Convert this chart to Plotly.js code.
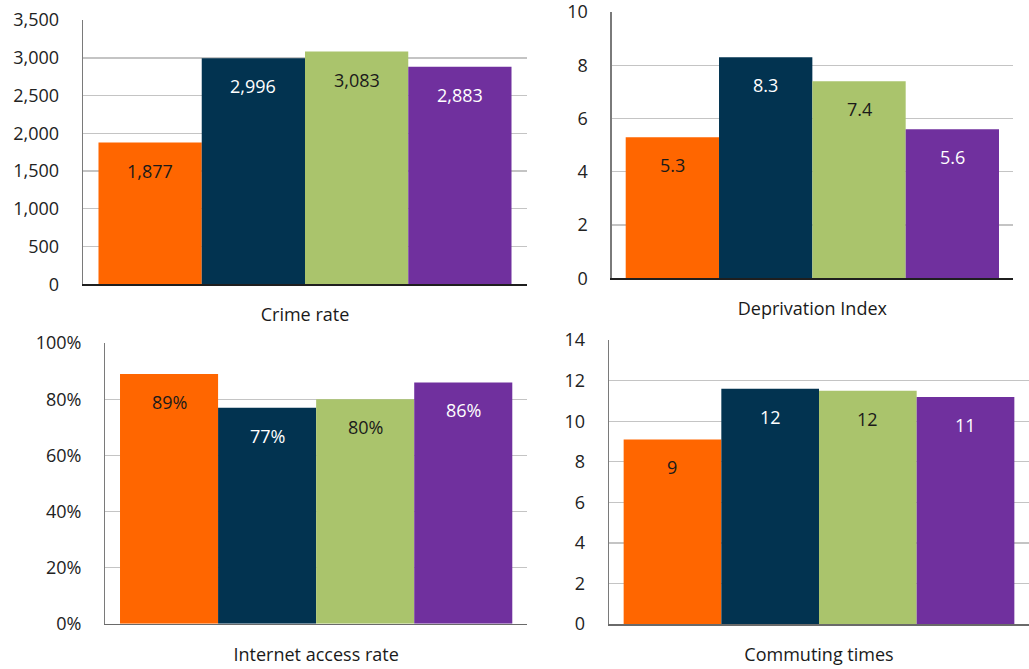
<!DOCTYPE html>
<html>
<head>
<meta charset="utf-8">
<script src="https://cdn.plot.ly/plotly-3.0.1.min.js"></script>
<style>
  html, body { margin: 0; padding: 0; background: #ffffff; }
  #chart { width: 1029px; height: 669px; }
</style>
</head>
<body>
<div id="chart"></div>
<script>
// Four indicators, each compared across the same four areas (colour-coded bars).
const metrics = ['Crime rate', 'Deprivation Index', 'Internet access rate', 'Commuting times'];

const seriesColors = ['#FF6600', '#023350', '#AAC46C', '#70309E'];
const labelColors  = ['#1a1a1a', '#ffffff', '#1a1a1a', '#ffffff'];

const crimeRate        = [1877, 2996, 3083, 2883];
const deprivationIndex = [5.3, 8.3, 7.4, 5.6];
const internetAccess   = [0.89, 0.77, 0.80, 0.86];
const commutingTimes   = [9.1, 11.6, 11.5, 11.2];

const yMax   = [3500, 10, 1, 14];
const yStep  = [500, 2, 0.2, 2];
const yTickFormat = [',d', 'd', '.0%', 'd'];

// value label formatters, one per indicator
const formatters = [
  v => v.toLocaleString('en-US'),
  v => v.toFixed(1),
  v => Math.round(v * 100) + '%',
  v => String(Math.round(v))
];

const panelValues = [crimeRate, deprivationIndex, internetAccess, commutingTimes];

// panel placement in paper coordinates
const W = 1029, H = 669;
const panels = [
  { x: [83, 527],     y: [20, 284.3],  base: '#1f1f1f' },
  { x: [611.7, 1013], y: [12, 278.3],  base: '#1f1f1f' },
  { x: [105.3, 527],  y: [343, 623.7], base: '#6a6a6a' },
  { x: [609, 1029],   y: [340, 624],   base: '#6a6a6a' }
];

const FONT = 'Open Sans, Noto Sans, sans-serif';
const traces = [];
const annotations = [];
const layout = {
  width: W, height: H,
  margin: { l: 0, r: 0, t: 0, b: 0 },
  paper_bgcolor: '#ffffff',
  plot_bgcolor: '#ffffff',
  showlegend: false,
  font: { family: FONT, size: 18, color: '#222222' },
  annotations: annotations
};

panelValues.forEach((vals, k) => {
  const suffix = k === 0 ? '' : String(k + 1);
  const xa = 'x' + suffix, ya = 'y' + suffix;
  const idx = vals.map((_, i) => i);
  const p = panels[k];

  traces.push({
    type: 'bar',
    x: idx,
    y: vals,
    width: 1,
    xaxis: xa, yaxis: ya,
    marker: { color: seriesColors, line: { width: 0 } },
    hoverinfo: 'skip'
  });

  vals.forEach((v, i) => {
    annotations.push({
      xref: xa, yref: ya,
      x: i, y: v,
      yshift: -28,
      yanchor: 'middle',
      showarrow: false,
      text: formatters[k](v),
      font: { family: FONT, size: 18, color: labelColors[i] }
    });
  });

  layout['xaxis' + suffix] = {
    domain: [p.x[0] / W, p.x[1] / W],
    anchor: ya,
    range: [-0.65, 3.65],
    tickvals: [1.5],
    ticktext: [metrics[k]],
    ticks: 'outside',
    ticklen: 14,
    tickcolor: 'rgba(0,0,0,0)',
    ticklabeloverflow: 'allow',
    showgrid: false,
    zeroline: false,
    showline: true,
    linecolor: p.base,
    linewidth: 1.5,
    tickfont: { family: FONT, size: 18, color: '#1a1a1a' },
    fixedrange: true
  };

  layout['yaxis' + suffix] = {
    domain: [1 - p.y[1] / H, 1 - p.y[0] / H],
    anchor: xa,
    // a hair of headroom so the top tick at the range end is kept
    range: [0, yMax[k] * 1.0004],
    dtick: yStep[k],
    tick0: 0,
    tickformat: yTickFormat[k],
    ticks: 'outside',
    ticklen: 19,
    tickcolor: 'rgba(0,0,0,0)',
    ticklabeloverflow: 'allow',
    showgrid: true,
    gridcolor: '#c4c4c4',
    gridwidth: 1.3,
    zeroline: false,
    showline: true,
    linecolor: '#7a7a7a',
    linewidth: 1.3,
    tickfont: { family: FONT, size: 18, color: '#222222' },
    fixedrange: true
  };
});

Plotly.newPlot('chart', traces, layout, { displayModeBar: false, staticPlot: true });
</script>
</body>
</html>
